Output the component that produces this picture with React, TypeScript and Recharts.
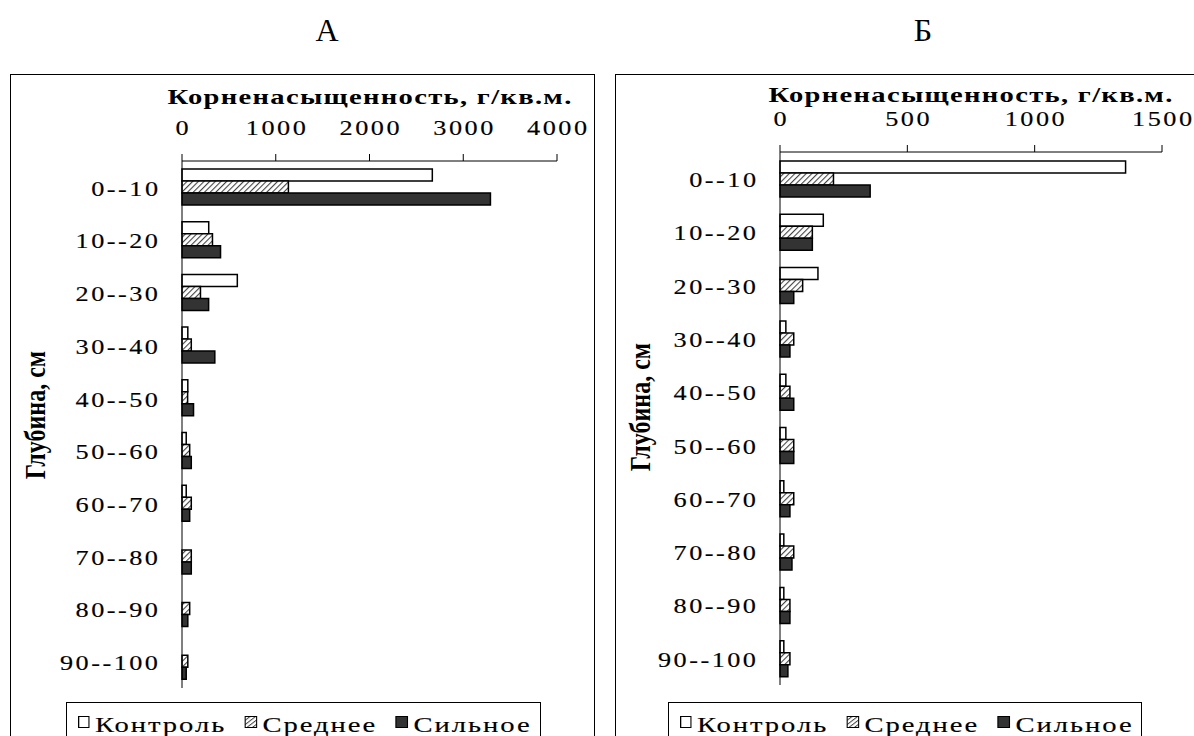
import React from 'react';
import { BarChart, Bar, XAxis, YAxis } from 'recharts';

// depth layers, cm
const depths = ['0--10', '10--20', '20--30', '30--40', '40--50', '50--60', '60--70', '70--80', '80--90', '90--100'];

// panel A, g per sq.m
const controlA = [2670, 285, 590, 62, 62, 45, 45, 0, 0, 0];
const mediumA = [1135, 325, 197, 99, 60, 82, 99, 99, 82, 62];
const strongA = [3290, 411, 284, 350, 123, 99, 82, 99, 62, 45];

// panel B
const controlB = [1357, 170, 149, 23, 23, 23, 15, 15, 15, 15];
const mediumB = [210, 127, 89, 54, 39, 54, 54, 54, 39, 39];
const strongB = [354, 127, 54, 39, 54, 54, 39, 47, 39, 31];

const ticksA = [0, 1000, 2000, 3000, 4000];
const ticksB = [0, 500, 1000, 1500];

const seriesNames = ['Контроль', 'Среднее', 'Сильное'];
const axisTitle = 'Корненасыщенность, г/кв.м.';
const depthTitle = 'Глубина, см';

const SERIF = '"Liberation Serif", "Times New Roman", serif';
const WIDE = 1.25; // the source text is drawn wide

const bounds = depths.map((_, i) => i).concat(depths.length);

function makeData(c: number[], m: number[], s: number[]) {
  return depths.map((d, i) => ({ depth: d, control: c[i], medium: m[i], strong: s[i] }));
}

function ValueTick(props: any) {
  const { x, y, payload } = props;
  return (
    <text transform={`translate(${x},${y}) scale(${WIDE},1)`} dx={1} textAnchor="middle" fontSize={21} letterSpacing={2} fill="#000" stroke="#000" strokeWidth={0.15}>
      {payload.value}
    </text>
  );
}

function DepthTick(props: any) {
  const { x, y, payload } = props;
  return (
    <text transform={`translate(${x},${y}) scale(${WIDE},1)`} dx={2} dy="0.4em" textAnchor="end" fontSize={21} letterSpacing={2} fill="#000" stroke="#000" strokeWidth={0.15}>
      {payload.value}
    </text>
  );
}

function Icon({ kind, id }: { kind: number; id: string }) {
  if (kind === 0) {
    return (
      <svg width={9} height={12} style={{ marginRight: 4, marginTop: 2 }}>
        <rect x={0.5} y={0.5} width={8} height={11} fill="#fff" stroke="#000" strokeWidth={1} />
      </svg>
    );
  }
  return (
    <svg width={10} height={12} style={{ marginRight: 4, marginTop: 2 }}>
      <defs>
        <pattern id={'lg-' + id} patternUnits="userSpaceOnUse" width={3} height={4} patternTransform="rotate(45)">
          <rect width={4} height={4} fill="#fff" />
          <line x1={0} y1={0} x2={0} y2={4} stroke="#444" strokeWidth={1.8} />
        </pattern>
      </defs>
      <rect x={0.5} y={0.5} width={9} height={11} fill={kind === 1 ? `url(#lg-${id})` : '#333'} stroke="#000" strokeWidth={1} />
    </svg>
  );
}

function Panel(props: any) {
  const { id, letter, letterX, data, ticks, max, left, width, margin, titleY, labelX, labelY, legendLeft, legendWidth } = props;
  const plotLeft = left + margin.left + 101;
  const plotRight = left + width - margin.right;
  const plotMid = (plotLeft + plotRight) / 2;
  return (
    <>
      <div style={{ position: 'absolute', left: letterX - 30, top: 14, width: 60, textAlign: 'center', fontSize: 32, lineHeight: '32px' }}>
        {letter}
      </div>
      <div style={{ position: 'absolute', left: plotMid - 260, top: titleY, width: 520, textAlign: 'center', fontSize: 22, lineHeight: '22px', fontWeight: 'bold', letterSpacing: '1px', transform: 'scaleX(1.3)' }}>
        {axisTitle}
      </div>
      <div style={{ position: 'absolute', left: labelX - 100, top: labelY - 15, width: 200, height: 30, lineHeight: '30px', textAlign: 'center', fontSize: 24, fontWeight: 'bold', transform: 'rotate(-90deg) scaleY(1.25)' }}>
        {depthTitle}
      </div>
      <div style={{ position: 'absolute', left, top: 0 }}>
        <BarChart width={width} height={736} data={data} layout="vertical" margin={margin} barSize={12} barGap={0}>
          <defs>
            <pattern id={'hatch-' + id} patternUnits="userSpaceOnUse" width={4} height={4} patternTransform="rotate(45)">
              <rect width={4} height={4} fill="#fff" />
              <line x1={0} y1={0} x2={0} y2={4} stroke="#444" strokeWidth={2.2} />
            </pattern>
          </defs>
          <XAxis type="number" orientation="top" domain={[0, max]} ticks={ticks} interval={0} height={40} tickSize={7} tickMargin={19} stroke="#000" tick={<ValueTick />} />
          <YAxis yAxisId={0} type="number" domain={[0, depths.length]} ticks={bounds} interval={0} width={1} tick={false} tickSize={10} stroke="#000" />
          <YAxis yAxisId={1} type="category" dataKey="depth" width={100} interval={0} axisLine={false} tickLine={false} tickSize={10} tickMargin={13} tick={<DepthTick />} />
          <Bar yAxisId={1} dataKey="control" fill="#fff" stroke="#000" strokeWidth={1.5} isAnimationActive={false} />
          <Bar yAxisId={1} dataKey="medium" fill={`url(#hatch-${id})`} stroke="#000" strokeWidth={1.5} isAnimationActive={false} />
          <Bar yAxisId={1} dataKey="strong" fill="#333" stroke="#000" strokeWidth={1.5} isAnimationActive={false} />
        </BarChart>
      </div>
      <div style={{ position: 'absolute', left: legendLeft, top: 702, width: legendWidth, height: 60, border: '1px solid #000', boxSizing: 'border-box' }}>
        <div
          style={{
            position: 'absolute',
            left: 11,
            top: 11,
            display: 'flex',
            alignItems: 'flex-start',
            whiteSpace: 'nowrap',
            fontSize: 22,
            lineHeight: '22px',
            letterSpacing: '1.5px',
            WebkitTextStroke: '0.15px #000',
            transform: 'scaleX(1.3)',
            transformOrigin: 'left top',
          }}
        >
          {seriesNames.map((n, i) => (
            <div key={n} style={{ display: 'flex', alignItems: 'flex-start', marginRight: i < 2 ? 14 : 0 }}>
              <Icon kind={i} id={id} />
              <span>{n}</span>
            </div>
          ))}
        </div>
      </div>
    </>
  );
}

export default function App() {
  return (
    <div style={{ position: 'absolute', left: 0, top: 0, width: 1194, height: 736, overflow: 'hidden', background: '#fff', fontFamily: SERIF, color: '#000' }}>
      <div style={{ position: 'absolute', left: 10, top: 74, width: 585, height: 720, border: '1px solid #000', boxSizing: 'border-box' }} />
      <div style={{ position: 'absolute', left: 615, top: 74, width: 620, height: 720, border: '1px solid #000', boxSizing: 'border-box' }} />
      <Panel
        id="a"
        letter="А"
        letterX={327}
        data={makeData(controlA, mediumA, strongA)}
        ticks={ticksA}
        max={4000}
        left={0}
        width={600}
        margin={{ top: 121, right: 43, bottom: 48, left: 81 }}
        titleY={86}
        labelX={35}
        labelY={415}
        legendLeft={66}
        legendWidth={475}
      />
      <Panel
        id="b"
        letter="Б"
        letterX={923}
        data={makeData(controlB, mediumB, strongB)}
        ticks={ticksB}
        max={1500}
        left={600}
        width={594}
        margin={{ top: 112, right: 32, bottom: 51, left: 79 }}
        titleY={84}
        labelX={640}
        labelY={407}
        legendLeft={668}
        legendWidth={474}
      />
    </div>
  );
}
